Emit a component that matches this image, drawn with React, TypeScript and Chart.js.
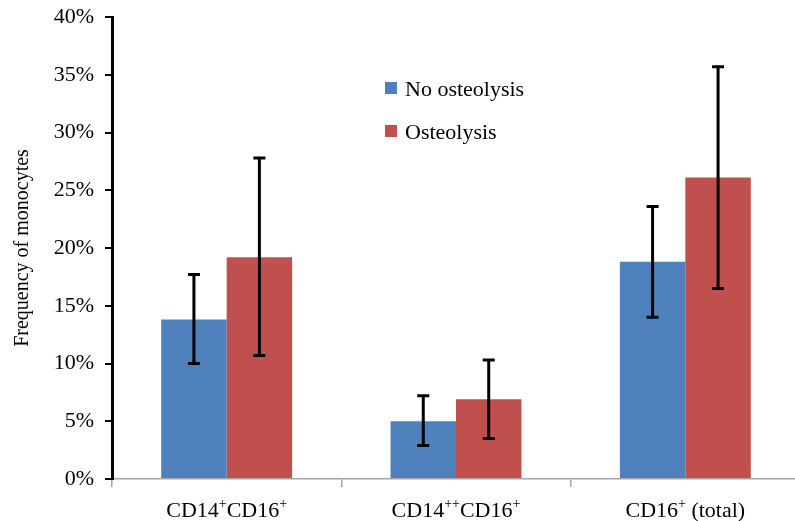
import React, { useEffect, useRef } from 'react';
import { Chart, registerables } from 'chart.js';

Chart.register(...registerables);

const categories = ['CD14⁺CD16⁺', 'CD14⁺⁺CD16⁺', 'CD16⁺ (total)'];
const seriesNames = ['No osteolysis', 'Osteolysis'];
const noOsteolysis = [13.8, 5.0, 18.8];
const noOsteolysisLow = [10.0, 2.9, 14.0];
const noOsteolysisHigh = [17.7, 7.2, 23.6];
const osteolysis = [19.2, 6.9, 26.1];
const osteolysisLow = [10.7, 3.5, 16.5];
const osteolysisHigh = [27.8, 10.3, 35.7];
const yMin = 0;
const yMax = 40;
const yStep = 5;
const yTitle = 'Frequency of monocytes';

const FONT = '"Liberation Serif", "Times New Roman", serif';
const BLUE = '#4F81BD';
const RED = '#C0504D';

function drawRich(ctx: CanvasRenderingContext2D, text: string, cx: number, y: number, size: number) {
  const segs: { t: string; sup: boolean }[] = [];
  for (const ch of text) {
    const sup = ch === '⁺';
    const t = sup ? '+' : ch;
    const last = segs[segs.length - 1];
    if (last && last.sup === sup) last.t += t;
    else segs.push({ t, sup });
  }
  const supSize = Math.round(size * 0.62);
  let total = 0;
  const widths: number[] = [];
  for (const s of segs) {
    ctx.font = `${s.sup ? supSize : size}px ${FONT}`;
    const w = ctx.measureText(s.t).width;
    widths.push(w);
    total += w;
  }
  let x = cx - total / 2;
  ctx.textAlign = 'left';
  ctx.textBaseline = 'alphabetic';
  segs.forEach((s, i) => {
    ctx.font = `${s.sup ? supSize : size}px ${FONT}`;
    ctx.fillText(s.t, x, s.sup ? y - size * 0.42 : y);
    x += widths[i];
  });
}

const errorBarPlugin = {
  id: 'errorBars',
  afterDatasetsDraw(chart: any) {
    const ctx = chart.ctx;
    const yScale = chart.scales.y;
    ctx.save();
    ctx.strokeStyle = '#000';
    ctx.lineWidth = 3;
    chart.data.datasets.forEach((ds: any, i: number) => {
      const meta = chart.getDatasetMeta(i);
      meta.data.forEach((el: any, j: number) => {
        const x = el.x;
        const yl = yScale.getPixelForValue(ds.errLow[j]);
        const yh = yScale.getPixelForValue(ds.errHigh[j]);
        ctx.beginPath();
        ctx.moveTo(x, yl);
        ctx.lineTo(x, yh);
        ctx.moveTo(x - 6, yl);
        ctx.lineTo(x + 6, yl);
        ctx.moveTo(x - 6, yh);
        ctx.lineTo(x + 6, yh);
        ctx.stroke();
      });
    });
    ctx.restore();
  },
};

const labelsPlugin = {
  id: 'richLabels',
  afterDraw(chart: any) {
    const ctx = chart.ctx;
    const xScale = chart.scales.x;
    ctx.save();
    ctx.fillStyle = '#000';
    (chart.data.labels as string[]).forEach((lab, i) => {
      drawRich(ctx, lab, xScale.getPixelForTick(i), 517, 22);
    });
    // legend
    chart.data.datasets.forEach((ds: any, i: number) => {
      const top = 82 + i * 43;
      ctx.fillStyle = ds.backgroundColor;
      ctx.fillRect(385, top, 12, 12);
      ctx.fillStyle = '#000';
      ctx.font = `22px ${FONT}`;
      ctx.textAlign = 'left';
      ctx.textBaseline = 'alphabetic';
      ctx.fillText(ds.label, 405, top + 14);
    });
    ctx.restore();
  },
};

export default function App() {
  const ref = useRef<HTMLCanvasElement>(null);
  useEffect(() => {
    if (!ref.current) return;
    const chart = new Chart(ref.current, {
      type: 'bar',
      data: {
        labels: categories,
        datasets: [
          {
            label: seriesNames[0],
            data: noOsteolysis,
            backgroundColor: BLUE,
            errLow: noOsteolysisLow,
            errHigh: noOsteolysisHigh,
          } as any,
          {
            label: seriesNames[1],
            data: osteolysis,
            backgroundColor: RED,
            errLow: osteolysisLow,
            errHigh: osteolysisHigh,
          } as any,
        ],
      },
      options: {
        responsive: false,
        animation: false,
        layout: { padding: { top: 17, right: 0, bottom: 0, left: 0 } },
        datasets: { bar: { categoryPercentage: 0.571, barPercentage: 1.0 } },
        plugins: { legend: { display: false }, tooltip: { enabled: false } },
        scales: {
          x: {
            afterFit: (s: any) => { s.height = 42; s.paddingLeft = 0; s.paddingRight = 0; },
            grid: {
              display: true,
              offset: true,
              drawOnChartArea: false,
              drawTicks: true,
              tickLength: 8,
              color: '#a6a6a6',
              lineWidth: 1.5,
            },
            border: { display: true, color: '#a6a6a6', width: 1.5 },
            ticks: { color: 'rgba(0,0,0,0)', font: { size: 21, family: FONT } },
          },
          y: {
            min: yMin,
            max: yMax,
            afterFit: (s: any) => { s.width = 112; s.paddingTop = 0; s.paddingBottom = 0; },
            ticks: {
              stepSize: yStep,
              padding: 11,
              color: '#000',
              font: { size: 22, family: FONT },
              callback: (v: any) => `${v}%`,
            },
            grid: {
              display: true,
              drawOnChartArea: false,
              drawTicks: true,
              tickLength: 7,
              color: '#000',
              lineWidth: 2,
            },
            border: { display: true, color: '#000', width: 3 },
            title: {
              display: true,
              text: yTitle,
              color: '#000',
              font: { size: 20, family: FONT, weight: 'normal' },
              padding: { top: 11, bottom: 0 },
            },
          },
        },
      },
      plugins: [errorBarPlugin, labelsPlugin],
    });
    return () => chart.destroy();
  }, []);
  return (
    <div style={{ position: 'fixed', left: 0, top: 0, width: 795, height: 521, overflow: 'hidden', background: '#fff' }}>
      <canvas ref={ref} width={800} height={521} style={{ display: 'block' }} />
    </div>
  );
}
